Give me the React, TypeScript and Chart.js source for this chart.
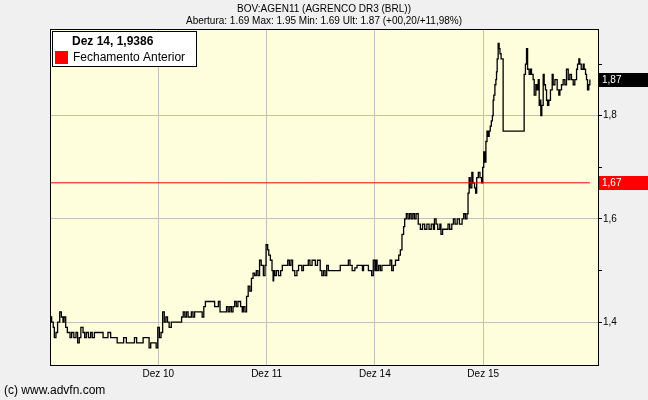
import React, { useEffect, useRef } from 'react';
import { Chart, registerables } from 'chart.js';
Chart.register(...registerables);

const FONT = '"Liberation Sans", Arial, sans-serif';

const chartTitle = 'BOV:AGEN11 (AGRENCO DR3 (BRL))';
const chartSubtitle = 'Abertura: 1.69 Max: 1.95 Min: 1.69 Ult: 1.87 (+00,20/+11,98%)';
const legendHeader = 'Dez 14, 1,9386';
const legendLabel = 'Fechamento Anterior';
const copyrightText = '(c) www.advfn.com';

// x positions: each trading day spans 100 slots
const dayTickPositions = [100, 200, 300, 400];
const dayTickLabels = ['Dez 10', 'Dez 11', 'Dez 14', 'Dez 15'];
const yTickValues = [1.4, 1.5, 1.6, 1.7, 1.8, 1.9];
const yLabeledValues = [1.4, 1.6, 1.8];
const previousClose = 1.67;

// [slot, price]
const dez09: [number, number][] = [
  [0, 1.41], [1.5, 1.40], [3, 1.39], [4, 1.37], [5.5, 1.38], [7, 1.40], [9, 1.42], [10.5, 1.41],
  [12, 1.40], [13, 1.41], [14.5, 1.39], [16, 1.38], [18.5, 1.37], [20, 1.38], [22, 1.37], [24, 1.38],
  [25.5, 1.36], [27, 1.37], [28.5, 1.39], [30.5, 1.38], [32, 1.37], [33.5, 1.38], [35.5, 1.37],
  [37.5, 1.38], [39, 1.37], [41, 1.38], [49, 1.37], [53.5, 1.38], [56, 1.37], [62, 1.36], [68, 1.37],
  [70.5, 1.36], [78, 1.37], [80, 1.36], [86, 1.37], [91.5, 1.35], [93, 1.36], [96.5, 1.36], [98, 1.35],
];
const dez10: [number, number][] = [
  [99.5, 1.39], [101, 1.37], [102.5, 1.38], [104, 1.42], [105.5, 1.40], [107, 1.41], [108.5, 1.40],
  [110, 1.39], [112, 1.40], [121.5, 1.41], [123, 1.42], [124.5, 1.41], [126, 1.42], [127.5, 1.41],
  [130.5, 1.42], [132, 1.41], [133.5, 1.42], [140.5, 1.41], [142, 1.43], [143.5, 1.44], [152, 1.43],
  [154, 1.43], [155.5, 1.44], [157, 1.42], [163, 1.43], [164.5, 1.42], [166, 1.43], [167.5, 1.42],
  [169, 1.43], [170.5, 1.44], [172, 1.43], [173.5, 1.44], [176, 1.43], [177.5, 1.42], [178.5, 1.43],
  [180, 1.42], [181.5, 1.45], [183, 1.47], [184.5, 1.46], [186, 1.485], [187.5, 1.495], [189, 1.49],
  [190.5, 1.50], [192, 1.49], [193.5, 1.52], [195, 1.51], [197, 1.49], [198.5, 1.51],
];
const dez11: [number, number][] = [
  [199.5, 1.55], [201, 1.54], [202, 1.53], [203.5, 1.52], [205, 1.50], [206, 1.48], [206.5, 1.50],
  [207.5, 1.49], [209, 1.50], [211, 1.49], [213, 1.50], [214.5, 1.51], [219.5, 1.52], [221, 1.51],
  [222.5, 1.52], [224, 1.50], [226, 1.49], [228, 1.50], [229.5, 1.51], [232.5, 1.50], [234, 1.51],
  [238.5, 1.52], [240, 1.51], [242, 1.52], [245, 1.51], [247, 1.52], [249.5, 1.50], [251, 1.49],
  [252.5, 1.50], [254, 1.49], [255.5, 1.51], [257, 1.50], [268, 1.51], [275.5, 1.52], [277, 1.51],
  [279, 1.50], [281.5, 1.505], [283.5, 1.51], [288.5, 1.50], [289.5, 1.51], [294, 1.50], [297, 1.49],
  [298.5, 1.52],
];
const dez14: [number, number][] = [
  [300, 1.50], [301, 1.52], [302, 1.50], [303.5, 1.51], [305, 1.50], [306.5, 1.51], [312.5, 1.51],
  [314, 1.52], [315.5, 1.50], [317, 1.51], [319, 1.52], [322, 1.53], [323.5, 1.54], [325, 1.57],
  [326.5, 1.585], [327.5, 1.60], [329, 1.61], [330.5, 1.60], [332, 1.61], [333.5, 1.60], [335, 1.61],
  [336.5, 1.60], [338, 1.61], [340, 1.59], [342, 1.58], [344, 1.59], [346, 1.58], [348, 1.59],
  [350, 1.58], [352, 1.59], [354, 1.58], [355, 1.60], [356.5, 1.59], [358, 1.58], [360, 1.59],
  [361, 1.57], [362.5, 1.58], [367.5, 1.59], [369, 1.58], [371, 1.59], [372.5, 1.60], [374, 1.59],
  [376, 1.60], [378, 1.59], [380.5, 1.60], [382, 1.61], [383.5, 1.60], [385, 1.61], [386, 1.65],
  [387, 1.68], [388, 1.66], [389.5, 1.69], [390.5, 1.67], [392, 1.66], [393, 1.65], [394, 1.68],
  [395.5, 1.69], [397, 1.68], [398.5, 1.67],
];
const dez15: [number, number][] = [
  [399.5, 1.70], [400.5, 1.73], [401.5, 1.71], [402.5, 1.75], [403.5, 1.77], [404.5, 1.76],
  [405.5, 1.77], [406.5, 1.78], [407.5, 1.79], [408.5, 1.80], [409.2, 1.83], [409.8, 1.84],
  [410.8, 1.86], [411.7, 1.87], [412.3, 1.885], [412.9, 1.91], [413.8, 1.94], [414.7, 1.93],
  [415.5, 1.92], [416.5, 1.91], [418.4, 1.77], [437.8, 1.88], [439, 1.90], [440, 1.93], [441, 1.89],
  [442.4, 1.88], [443.7, 1.89], [444.6, 1.88], [446.1, 1.87], [447.1, 1.84], [448.6, 1.86],
  [449.8, 1.85], [450.8, 1.87], [451.7, 1.82], [452.3, 1.83], [453.2, 1.80], [454.1, 1.82],
  [455.4, 1.88], [456.3, 1.86], [457.5, 1.85], [458.5, 1.83], [459.4, 1.82], [460.6, 1.83],
  [462.1, 1.85], [463.7, 1.88], [464.6, 1.86], [466.2, 1.87], [468.3, 1.85], [469.8, 1.84],
  [470.8, 1.85], [472.3, 1.86], [473.8, 1.87], [475.4, 1.86], [476.9, 1.89], [478.5, 1.87],
  [480, 1.88], [481.5, 1.87], [483.1, 1.86], [484.6, 1.87], [486.2, 1.89], [487.1, 1.90],
  [488.3, 1.91], [489.2, 1.90], [490.5, 1.89], [492.3, 1.90], [493.2, 1.89], [494.5, 1.88],
  [495.4, 1.87], [496.3, 1.85], [497.5, 1.86], [498.5, 1.87],
];

const X_MIN = 0;
const X_MAX = 506;
const Y_MIN = 1.317;
const Y_MAX = 1.968;

export default function App() {
  const canvasRef = useRef<HTMLCanvasElement | null>(null);

  useEffect(() => {
    const canvas = canvasRef.current;
    if (!canvas) return;
    const series = [...dez09, ...dez10, ...dez11, ...dez14, ...dez15].map(([x, y]) => ({ x, y }));
    const last = series[series.length - 1];

    const decor = {
      id: 'decor',
      beforeDraw(chart: any) {
        const { ctx, chartArea: a } = chart;
        ctx.save();
        ctx.fillStyle = '#fffedc';
        ctx.fillRect(a.left, a.top, a.right - a.left, a.bottom - a.top);
        ctx.restore();
      },
      afterDraw(chart: any) {
        const { ctx, chartArea: a, width } = chart;
        const yScale = chart.scales.y;
        ctx.save();
        // frame
        ctx.strokeStyle = '#000';
        ctx.lineWidth = 1;
        ctx.strokeRect(Math.round(a.left) + 0.5, Math.round(a.top) + 0.5, Math.round(a.right - a.left), Math.round(a.bottom - a.top));
        // titles
        ctx.fillStyle = '#000';
        ctx.textAlign = 'center';
        ctx.textBaseline = 'middle';
        ctx.font = `10px ${FONT}`;
        ctx.fillText(chartTitle, width / 2, 9);
        ctx.fillText(chartSubtitle, width / 2, 21);
        // legend
        ctx.fillStyle = '#fff';
        ctx.fillRect(52, 31, 144, 35);
        ctx.strokeStyle = '#000';
        ctx.strokeRect(52.5, 31.5, 144, 35);
        ctx.fillStyle = '#000';
        ctx.textAlign = 'left';
        ctx.font = `bold 12px ${FONT}`;
        ctx.fillText(legendHeader, 72, 42);
        ctx.fillStyle = '#ff0000';
        ctx.fillRect(55, 51, 13, 13);
        ctx.fillStyle = '#000';
        ctx.font = `12px ${FONT}`;
        ctx.fillText(legendLabel, 73, 57.5);
        // value boxes on the right axis
        const boxes = [
          { v: last.y, bg: '#000000', label: last.y.toFixed(2).replace('.', ',') },
          { v: previousClose, bg: '#ff0000', label: previousClose.toFixed(2).replace('.', ',') },
        ];
        ctx.font = `10px ${FONT}`;
        for (const b of boxes) {
          const py = yScale.getPixelForValue(b.v);
          ctx.fillStyle = b.bg;
          ctx.fillRect(Math.round(a.right) + 1, Math.round(py) - 7, width - Math.round(a.right) - 1, 14);
          ctx.fillStyle = '#fff';
          ctx.fillText(b.label, Math.round(a.right) + 4, Math.round(py));
        }
        // copyright
        ctx.fillStyle = '#000';
        ctx.font = `12px ${FONT}`;
        ctx.fillText(copyrightText, 4, 391);
        ctx.restore();
      },
    };

    const chart = new Chart(canvas, {
      type: 'line',
      data: {
        datasets: [
          {
            data: [{ x: X_MIN, y: previousClose }, { x: last.x, y: previousClose }],
            borderColor: '#ff0000',
            borderWidth: 1,
            pointRadius: 0,
          },
          {
            data: series,
            borderColor: '#000000',
            borderWidth: 1.3,
            pointRadius: 0,
            stepped: true,
          },
        ],
      },
      options: {
        animation: false,
        responsive: false,
        devicePixelRatio: 1,
        parsing: false as any,
        layout: { padding: { top: 29, left: 50, right: 0, bottom: 0 } },
        plugins: { legend: { display: false }, tooltip: { enabled: false }, title: { display: false } },
        scales: {
          x: {
            type: 'linear',
            min: X_MIN,
            max: X_MAX,
            afterBuildTicks: (scale: any) => {
              scale.ticks = dayTickPositions.map((value) => ({ value }));
            },
            afterFit: (scale: any) => {
              scale.height = 35;
            },
            ticks: {
              autoSkip: false,
              maxRotation: 0,
              padding: 3,
              color: '#000',
              font: { family: FONT, size: 10 },
              callback: (value: any) => {
                const i = dayTickPositions.indexOf(Number(value));
                return i >= 0 ? dayTickLabels[i] : '';
              },
            },
            grid: { color: '#c0c0c0', drawTicks: false, lineWidth: 1 },
            border: { display: true, color: '#000' },
          },
          y: {
            type: 'linear',
            position: 'right',
            min: Y_MIN,
            max: Y_MAX,
            afterBuildTicks: (scale: any) => {
              scale.ticks = yTickValues.map((value) => ({ value }));
            },
            afterFit: (scale: any) => {
              scale.width = 50;
            },
            ticks: {
              padding: 1,
              color: '#000',
              font: { family: FONT, size: 10 },
              callback: (value: any) => {
                const v = Number(value);
                return yLabeledValues.some((t) => Math.abs(t - v) < 1e-6) ? v.toFixed(1).replace('.', ',') : '';
              },
            },
            grid: {
              tickLength: 4,
              lineWidth: 1,
              tickColor: '#000',
              color: (ctx: any) => {
                const v = ctx.tick ? ctx.tick.value : 0;
                return yLabeledValues.some((t) => Math.abs(t - v) < 1e-6) ? '#c0c0c0' : 'rgba(0,0,0,0)';
              },
            },
            border: { display: true, color: '#000' },
          },
        },
      },
      plugins: [decor],
    } as any);

    return () => chart.destroy();
  }, []);

  return (
    <div style={{ position: 'fixed', left: 0, top: 0, width: 648, height: 400, background: '#f0f0f0' }}>
      <canvas ref={canvasRef} width={648} height={400} style={{ display: 'block' }} />
    </div>
  );
}
